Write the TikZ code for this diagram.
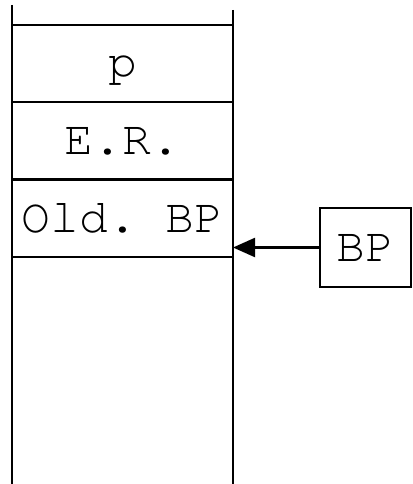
\documentclass[tikz,border=0pt]{standalone}
\usepackage{fontspec}
\setmonofont{TeX Gyre Cursor}
\usetikzlibrary{arrows.meta}
\begin{document}
\begin{tikzpicture}[x=1pt,y=-1pt,
  txt/.style={font=\fontsize{48}{48}\ttfamily,text height=31pt,text depth=4pt},
  cell/.style={txt,draw,line width=1.8pt,minimum width=221pt,minimum height=77pt,inner sep=0pt,outer sep=0pt,anchor=north west},
  ptr/.style={txt,draw,line width=1.8pt,minimum width=91pt,minimum height=79pt,inner sep=0pt,outer sep=0pt,anchor=north west},
  wall/.style={line width=1.8pt},
  arr/.style={line width=2.2pt,-{Triangle[length=22pt,width=19pt]}}]
\useasboundingbox (0,0) rectangle (412,484);
\node[cell] (p) at (12,25) {p};
\node[cell] (er) at (12,102) {E.R.};
\node[cell] (old) at (12,180) {Old. BP};
\draw[wall] (12,5) -- (12,484);
\draw[wall] (233,10) -- (233,484);
\node[ptr] (bp) at (320,208) {BP};
\draw[arr] (bp.west) -- (bp.west -| old.east);
\end{tikzpicture}
\end{document}
